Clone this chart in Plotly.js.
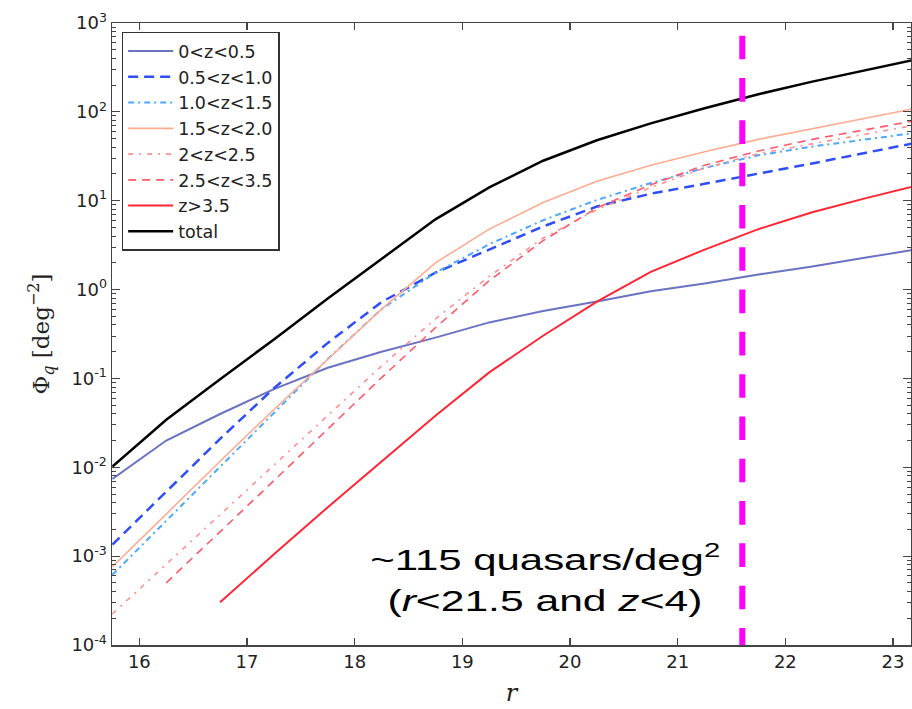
<!DOCTYPE html>
<html><head><meta charset="utf-8">
<script src="https://cdn.plot.ly/plotly-3.0.1.min.js"></script>
<style>html,body{margin:0;padding:0;background:#fff}</style>
</head><body><div id="chart" style="width:912px;height:709px"></div>
<script>
// r-band magnitude bin centres
const rAll = [15.75,16.25,16.75,17.25,17.75,18.25,18.75,19.25,19.75,20.25,20.75,21.25,21.75,22.25,22.75,23.25];
const rFrom1625 = [16.25,16.75,17.25,17.75,18.25,18.75,19.25,19.75,20.25,20.75,21.25,21.75,22.25,22.75,23.25];
const rFrom1675 = [16.75,17.25,17.75,18.25,18.75,19.25,19.75,20.25,20.75,21.25,21.75,22.25,22.75,23.25];

// cumulative number counts [deg^-2]
const z0_05   = [0.00741,0.0200,0.0398,0.0759,0.132,0.200,0.288,0.427,0.575,0.733,0.955,1.17,1.48,1.82,2.29,2.88];
const z05_10  = [0.00135,0.00537,0.0209,0.0776,0.251,0.724,1.55,2.82,5.13,8.61,12.0,15.5,20.0,26.3,34.7,45.7];
const z10_15  = [0.000617,0.00251,0.0102,0.0417,0.166,0.603,1.55,3.24,6.03,10.2,15.8,23.4,32.4,40.7,49.0,58.9];
const z15_20  = [0.000759,0.00302,0.0117,0.0447,0.166,0.603,2.0,4.79,9.55,16.6,25.1,35.5,49.0,64.6,85.1,112];
const z20_25  = [0.000224,0.000813,0.00295,0.0107,0.0389,0.138,0.468,1.41,3.80,7.94,14.1,23.4,33.9,43.6,56.2,72.4];
const z25_35  = [0.000501,0.00186,0.00708,0.0269,0.102,0.372,1.26,3.55,8.32,15.1,25.1,36.3,49.0,63.1,81.3];
const z35     = [0.000302,0.00105,0.00355,0.0117,0.038,0.117,0.302,0.733,1.58,2.82,4.79,7.41,10.7,15.1];
const total   = [0.0102,0.0342,0.0977,0.275,0.794,2.24,6.17,14.1,28.2,47.9,74.1,110,158,219,295,398];

const seriesNames = ["0&lt;z&lt;0.5","0.5&lt;z&lt;1.0","1.0&lt;z&lt;1.5","1.5&lt;z&lt;2.0","2&lt;z&lt;2.5","2.5&lt;z&lt;3.5","z&gt;3.5","total"];

// magnitude limit marker (vertical line at r = 21.6)
const rLimit = [21.6, 21.6];
const limitY = [2150, 1e-4];

const yTickVals = [1e-4,1e-3,1e-2,1e-1,1,10,100,1000];
const yTickText = ["10<sup>-4</sup>","10<sup>-3</sup>","10<sup>-2</sup>","10<sup>-1</sup>","10<sup>0</sup>","10<sup>1</sup>","10<sup>2</sup>","10<sup>3</sup>"];
const xTickVals = [16,17,18,19,20,21,22,23];

const noteLines = ['~115 quasars/deg<sup>2</sup>', '(<i>r</i>&lt;21.5 and <i>z</i>&lt;4)'];

function tr(x, y, name, color, width, dash) {
  return {x: x, y: y, name: name, type: 'scatter', mode: 'lines',
          line: {color: color, width: width, dash: dash}};
}

const data = [
  tr(rAll, z0_05, seriesNames[0], '#6a72c2', 2, 'solid'),
  tr(rAll, z05_10, seriesNames[1], '#2f4ef7', 2.5, '10px,6px'),
  tr(rAll, z10_15, seriesNames[2], '#4ea8ff', 2, '6px,4px,2px,4px'),
  tr(rAll, z15_20, seriesNames[3], '#ffab92', 1.6, 'solid'),
  tr(rAll, z20_25, seriesNames[4], '#ff9090', 1.6, '5px,6px,2px,6px'),
  tr(rFrom1625, z25_35, seriesNames[5], '#ff5a6a', 1.6, '8px,6px'),
  tr(rFrom1675, z35, seriesNames[6], '#ff2535', 2, 'solid'),
  tr(rAll, total, seriesNames[7], '#000000', 2.5, 'solid'),
  {x: rLimit, y: limitY, type: 'scatter', mode: 'lines', showlegend: false,
   line: {color: '#ff00ff', width: 6, dash: '23.6px,18.7px'}}
];

const axisCommon = {
  showline: true, linecolor: '#444', linewidth: 1.5, mirror: 'allticks',
  ticks: 'inside', tickcolor: '#444', tickwidth: 1.2, showgrid: false, zeroline: false,
  tickfont: {family: 'DejaVu Sans', size: 18, color: '#222'}
};

const layout = {
  width: 912, height: 709,
  margin: {l: 112, r: 1, t: 23, b: 64, pad: 0},
  paper_bgcolor: '#fff', plot_bgcolor: '#fff',
  font: {family: 'DejaVu Sans', color: '#222'},
  xaxis: Object.assign({}, axisCommon, {
    range: [15.746, 23.167], tickmode: 'array', tickvals: xTickVals, ticklen: 7,
    title: {text: '<i>r</i>', font: {family: 'DejaVu Serif', size: 24, color: '#222'}, standoff: 13}
  }),
  yaxis: Object.assign({}, axisCommon, {
    type: 'log', range: [-4, 3], tickmode: 'array', tickvals: yTickVals, ticktext: yTickText, ticklen: 8,
    minor: {ticks: 'inside', ticklen: 4, tickcolor: '#444', tickwidth: 1, dtick: 'D1', showgrid: false},
    title: {text: 'Φ<sub><i>q</i></sub> [deg<sup>−2</sup>]', font: {family: 'DejaVu Serif', size: 23, color: '#222'}, standoff: 15}
  }),
  showlegend: true,
  legend: {
    x: 0.0121, y: 0.986, xanchor: 'left', yanchor: 'top',
    bgcolor: '#fff', bordercolor: '#333', borderwidth: 1.5,
    font: {family: 'DejaVu Sans', size: 17.5, color: '#222'},
    itemwidth: 45, tracegroupgap: 0
  },
  annotations: [
    {xref: 'paper', yref: 'paper', x: 0.542, y: 0.1415, xanchor: 'center', yanchor: 'middle',
     showarrow: false, align: 'center', text: noteLines[0],
     font: {family: 'Liberation Sans', size: 30, color: '#000'}},
    {xref: 'paper', yref: 'paper', x: 0.542, y: 0.0723, xanchor: 'center', yanchor: 'middle',
     showarrow: false, align: 'center', text: noteLines[1],
     font: {family: 'Liberation Sans', size: 30, color: '#000'}}
  ]
};

const noteWidths = [350, 315];

Plotly.newPlot('chart', data, layout, {staticPlot: true, displayModeBar: false}).then(function (gd) {
  const texts = gd.querySelectorAll('.annotation-text');
  texts.forEach(function (t, i) {
    if (noteWidths[i]) {
      t.setAttribute('textLength', noteWidths[i]);
      t.setAttribute('lengthAdjust', 'spacingAndGlyphs');
    }
  });
});
</script>
</body></html>
